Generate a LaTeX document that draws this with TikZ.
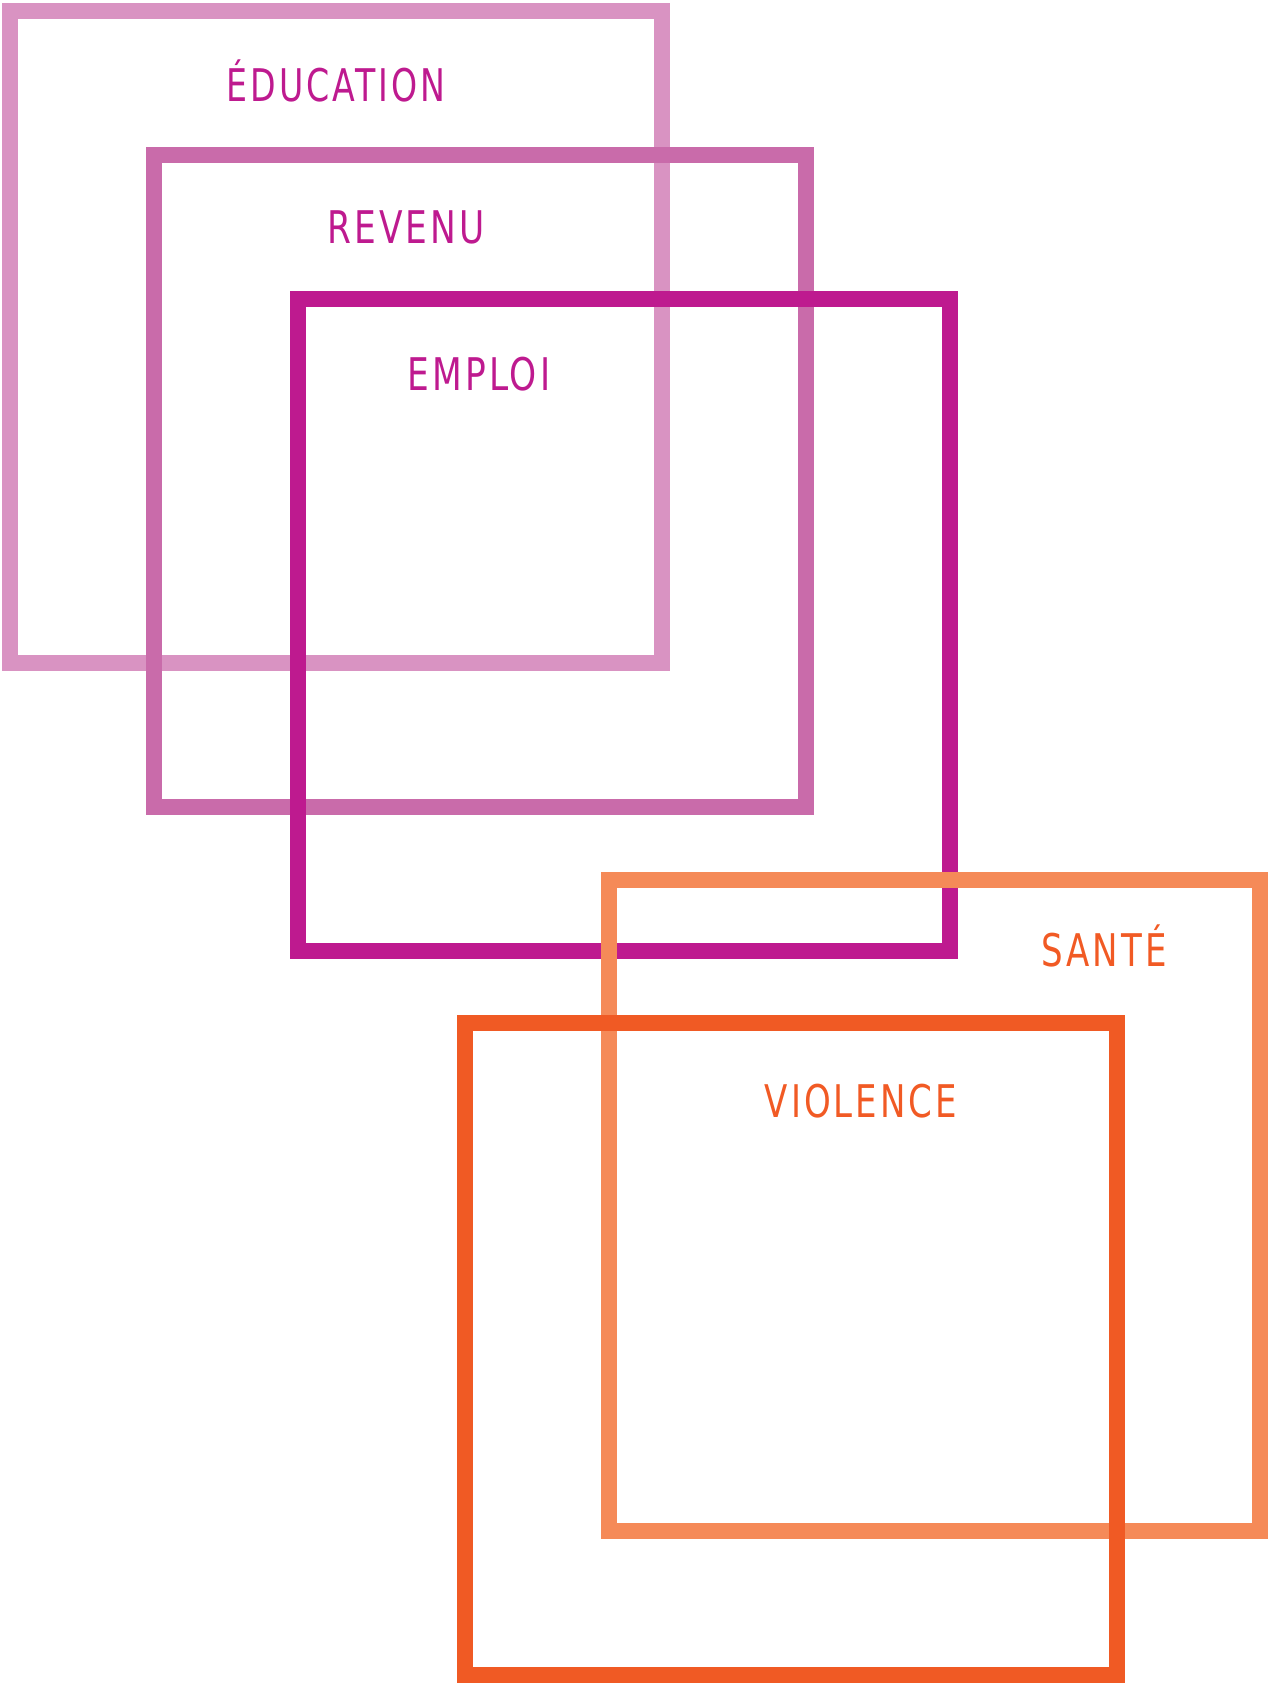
\documentclass[tikz,border=0pt]{standalone}
\usepackage{fontspec}
\newfontfamily\lblfont[LetterSpace=8]{DejaVu Sans Condensed}
\definecolor{cedu}{HTML}{D993C2}
\definecolor{crev}{HTML}{C96BAA}
\definecolor{cemp}{HTML}{BE1A8F}
\definecolor{csan}{HTML}{F58A58}
\definecolor{cvio}{HTML}{F05A24}
\definecolor{tmag}{HTML}{BE1A8F}
\definecolor{tora}{HTML}{F15A24}
\tikzset{
  frame/.style={draw=#1, line width=16pt, line join=miter},
  lbl/.style={text=#1, anchor=base, inner sep=0pt, font=\lblfont\fontsize{45}{45}\selectfont}
}
\begin{document}
\begin{tikzpicture}[x=1pt,y=-1pt]
\useasboundingbox (0,0) rectangle (1268,1683);
\draw[frame=cedu] (10,11) rectangle (662,663);
\draw[frame=crev] (154,155) rectangle (806,807);
\draw[frame=cemp] (298,299) rectangle (950,951);
\draw[frame=csan] (609,880) rectangle (1260,1531);
\draw[frame=cvio] (465,1023) rectangle (1117,1675);
\node[lbl=tmag] (edu) at (336,102) {\scalebox{0.82}[1]{ÉDUCATION}};
\node[lbl=tmag] (rev) at (406,243) {\scalebox{0.85}[1]{REVENU}};
\node[lbl=tmag] (emp) at (479,390) {\scalebox{0.85}[1]{EMPLOI}};
\node[lbl=tora] (san) at (1104,966) {\scalebox{0.84}[1]{SANTÉ}};
\node[lbl=tora] (vio) at (861,1117) {\scalebox{0.84}[1]{VIOLENCE}};
\end{tikzpicture}
\end{document}
